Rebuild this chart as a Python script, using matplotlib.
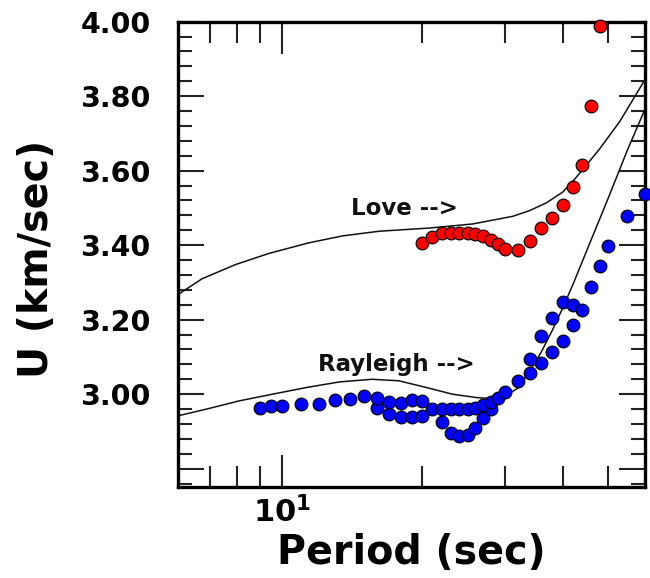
import matplotlib
matplotlib.use("Agg")
import matplotlib.pyplot as plt
from matplotlib.ticker import FixedLocator, FuncFormatter, NullFormatter

# Observed Love-wave group velocities
love_period = [20, 21, 22, 23, 24, 25, 26, 27, 28, 29, 30, 32, 34, 36, 38, 40, 42, 44, 46, 48]
love_u = [3.406, 3.422, 3.433, 3.433, 3.433, 3.433, 3.430, 3.424, 3.415, 3.402, 3.391,
          3.387, 3.411, 3.447, 3.473, 3.509, 3.555, 3.614, 3.774, 3.988]

# Observed Rayleigh-wave group velocities (two measurement sets)
rayl_a_period = [9, 9.5, 10, 11, 12, 13, 14, 15, 16, 17, 18, 19, 20, 21, 22, 23, 24, 25,
                 26, 27, 28, 29, 30, 32, 34, 36, 38, 40, 42, 44]
rayl_a_u = [2.964, 2.969, 2.969, 2.973, 2.973, 2.985, 2.988, 2.995, 2.991, 2.978, 2.976,
            2.985, 2.982, 2.960, 2.960, 2.960, 2.960, 2.960, 2.964, 2.971, 2.979, 2.991,
            3.005, 3.036, 3.094, 3.156, 3.205, 3.247, 3.239, 3.227]
rayl_b_period = [16, 17, 18, 19, 20, 22, 23, 24, 25, 26, 27, 28, 34, 36, 38, 40, 42, 46,
                 48, 50, 55, 60]
rayl_b_u = [2.964, 2.946, 2.938, 2.938, 2.942, 2.924, 2.896, 2.887, 2.890, 2.908, 2.935,
            2.960, 3.057, 3.084, 3.114, 3.143, 3.186, 3.289, 3.344, 3.397, 3.478, 3.538]

# Theoretical dispersion curves
love_curve_period = [6, 6.75, 7.96, 9.39, 11.4, 13.5, 16.18, 20.71, 25.66, 31.27, 33.96,
                     36.88, 39.98, 42.06, 44.13, 48.0, 52.98, 59.43, 60]
love_curve_u = [3.268, 3.310, 3.348, 3.378, 3.406, 3.425, 3.4375, 3.446, 3.457, 3.4776,
                3.4929, 3.5135, 3.5425, 3.572, 3.6027, 3.659, 3.732, 3.836, 3.844]
rayl_curve_period = [6, 7, 8.1, 9.55, 11.3, 13.3, 15.6, 17.8, 20.4, 23.2, 26.1, 28.3, 30,
                     32, 34, 36, 38, 40, 42, 45, 50, 55, 60]
rayl_curve_u = [2.942, 2.962, 2.982, 3.000, 3.018, 3.033, 3.040, 3.036, 3.018, 3.000,
                2.991, 2.988, 2.993, 3.016, 3.062, 3.114, 3.172, 3.232, 3.293, 3.385,
                3.525, 3.655, 3.765]

y_major = [2.80, 3.00, 3.20, 3.40, 3.60, 3.80, 4.00]
y_labeled = [3.00, 3.20, 3.40, 3.60, 3.80, 4.00]

plt.rcParams['font.family'] = ['DejaVu Sans']
plt.rcParams['font.weight'] = 'bold'
plt.rcParams['mathtext.fontset'] = 'dejavusans'
plt.rcParams['mathtext.default'] = 'bf'

fig = plt.figure(figsize=(6.5, 5.78), dpi=100)
ax = fig.add_axes([0.2743, 0.1569, 0.7180, 0.8056])

ax.set_xscale('log')
ax.set_xlim(6, 60)
ax.set_ylim(2.75, 4.00)

ax.plot(love_curve_period, love_curve_u, color='#111111', lw=1.1, zorder=2,
        solid_joinstyle='round')
ax.plot(rayl_curve_period, rayl_curve_u, color='#111111', lw=1.1, zorder=2,
        solid_joinstyle='round')

mk = dict(marker='o', ms=9.2, mec='black', mew=0.8, ls='none', zorder=3, clip_on=False)
ax.plot(rayl_b_period, rayl_b_u, mfc='#0000ff', **mk)
ax.plot(rayl_a_period, rayl_a_u, mfc='#0000ff', **mk)
ax.plot(love_period, love_u, mfc='#ff0000', **mk)

ax.text(14.06, 3.48, 'Love -->', fontsize=16.5, fontweight='bold', color='#111111',
        va='baseline', ha='left')
ax.text(11.98, 3.062, 'Rayleigh -->', fontsize=16.5, fontweight='bold', color='#111111',
        va='baseline', ha='left')

# Axes frame and ticks
for s in ax.spines.values():
    s.set_linewidth(2.4)

ax.xaxis.set_major_locator(FixedLocator([10]))
ax.xaxis.set_minor_locator(FixedLocator([7, 8, 9, 20, 30, 40, 50]))
ax.xaxis.set_major_formatter(FuncFormatter(lambda v, p: r'$\mathbf{10^{1}}$'))
ax.xaxis.set_minor_formatter(NullFormatter())

ax.yaxis.set_major_locator(FixedLocator(y_major))
ax.yaxis.set_minor_locator(FixedLocator([round(2.76 + 0.04 * i, 2) for i in range(31)]))
ax.yaxis.set_major_formatter(FuncFormatter(
    lambda v, p: f'{v:.2f}' if any(abs(v - t) < 1e-6 for t in y_labeled) else ''))

ax.tick_params(axis='both', which='both', direction='in', top=True, right=True,
               width=1.5, color='#222222')
ax.tick_params(axis='x', which='major', length=23, pad=6, labelsize=22)
ax.tick_params(axis='x', which='minor', length=15)
ax.tick_params(axis='y', which='major', length=19, pad=20, labelsize=20.5)
ax.tick_params(axis='y', which='minor', length=10)

ax.set_xlabel('Period (sec)', fontsize=28.5, fontweight='bold')
ax.set_ylabel('U (km/sec)', fontsize=28.5, fontweight='bold')
ax.xaxis.set_label_coords(0.5, -0.098)
ax.yaxis.set_label_coords(-0.26, 0.49)

fig.savefig('out.png', dpi=100)
